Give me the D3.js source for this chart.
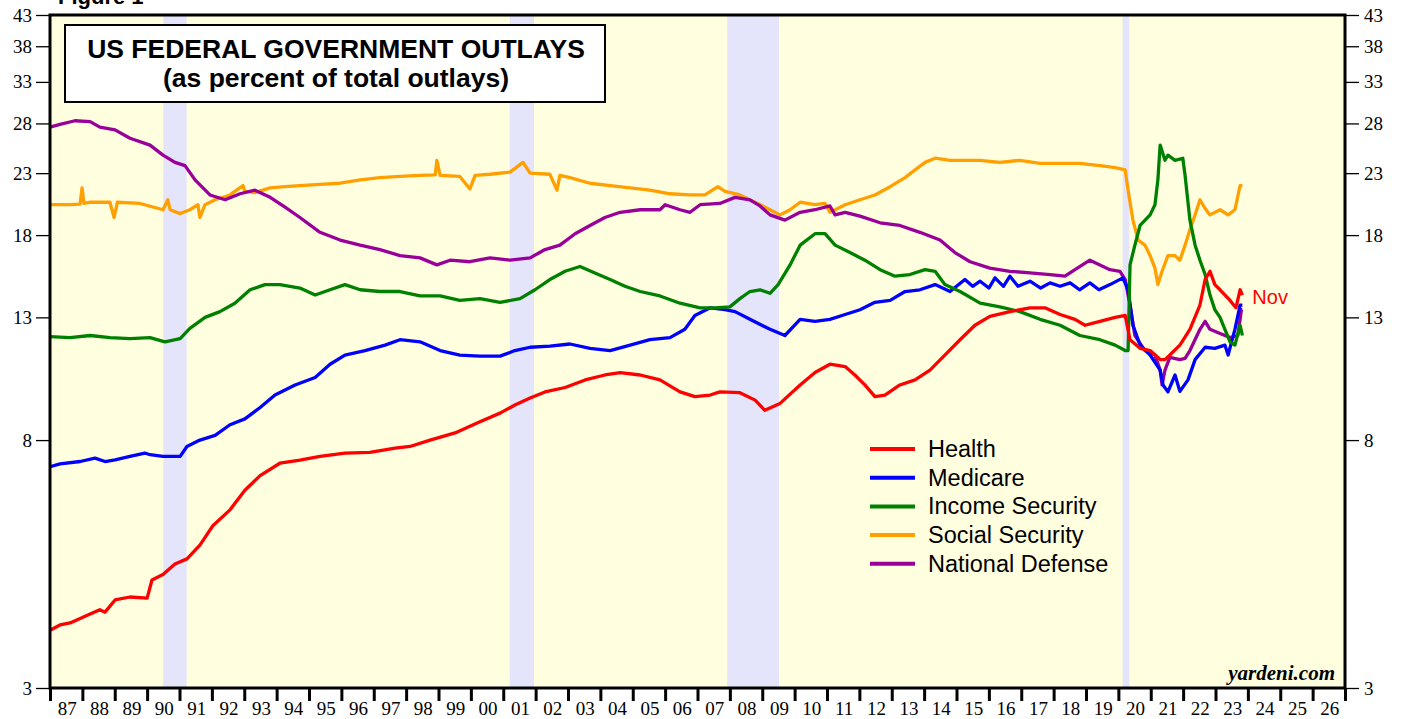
<!DOCTYPE html>
<html><head><meta charset="utf-8">
<script src="https://cdn.jsdelivr.net/npm/d3@7"></script>
<style>body{margin:0;background:#fff}svg{display:block}</style>
</head><body><svg id="c" width="1405" height="719"></svg>
<script>
const yearTicks = d3.range(1987, 2027);
const yTickValues = [3, 8, 13, 18, 23, 28, 33, 38, 43];
const recessions = [[1990.5, 1991.22], [2001.2, 2001.95], [2007.92, 2009.52], [2020.13, 2020.34]];
const seriesNames = ["Health", "Medicare", "Income Security", "Social Security", "National Defense"];
const seriesColors = ["#ff0000", "#0000ff", "#008000", "#ffa000", "#990099"];

const health = [[1987.00,3.77],[1987.31,3.85],[1987.62,3.88],[1987.93,3.95],[1988.24,4.02],[1988.54,4.09],[1988.70,4.05],[1989.01,4.25],[1989.47,4.30],[1990.00,4.28],[1990.15,4.60],[1990.49,4.70],[1990.86,4.90],[1991.23,5.00],[1991.63,5.28],[1992.03,5.70],[1992.56,6.07],[1993.02,6.56],[1993.49,6.95],[1994.10,7.30],[1994.72,7.39],[1995.34,7.50],[1996.11,7.60],[1996.88,7.62],[1997.66,7.75],[1998.12,7.80],[1998.74,8.00],[1999.51,8.23],[2000.28,8.60],[2000.90,8.90],[2001.36,9.19],[2001.83,9.45],[2002.29,9.68],[2002.91,9.85],[2003.53,10.15],[2004.14,10.35],[2004.61,10.45],[2005.23,10.35],[2005.84,10.15],[2006.46,9.68],[2006.92,9.50],[2007.39,9.56],[2007.69,9.68],[2008.31,9.65],[2008.78,9.37],[2009.08,9.00],[2009.55,9.25],[2010.17,9.95],[2010.63,10.45],[2011.09,10.80],[2011.56,10.70],[2011.86,10.35],[2012.17,9.95],[2012.48,9.50],[2012.79,9.56],[2013.25,9.95],[2013.72,10.15],[2014.18,10.55],[2014.64,11.20],[2015.11,11.90],[2015.57,12.60],[2016.03,13.05],[2016.65,13.30],[2017.27,13.50],[2017.73,13.50],[2018.20,13.15],[2018.66,12.90],[2018.97,12.60],[2019.43,12.80],[2019.90,13.00],[2020.21,13.10],[2020.36,11.90],[2020.67,11.50],[2020.98,11.40],[2021.29,11.00],[2021.44,11.00],[2021.59,11.20],[2021.90,11.65],[2022.21,12.40],[2022.52,13.65],[2022.68,15.10],[2022.83,15.60],[2022.98,14.80],[2023.14,14.50],[2023.45,13.90],[2023.63,13.50],[2023.76,14.50],[2023.83,14.20]];

const medicare = [[1987.00,7.20],[1987.31,7.28],[1987.93,7.35],[1988.39,7.45],[1988.70,7.35],[1989.01,7.40],[1989.47,7.50],[1989.93,7.60],[1990.09,7.55],[1990.49,7.50],[1991.02,7.50],[1991.23,7.80],[1991.63,8.00],[1992.10,8.15],[1992.56,8.50],[1993.02,8.70],[1993.49,9.10],[1993.95,9.56],[1994.57,9.95],[1995.19,10.25],[1995.65,10.80],[1996.11,11.20],[1996.73,11.40],[1997.35,11.65],[1997.81,11.90],[1998.43,11.80],[1999.05,11.40],[1999.66,11.20],[2000.28,11.15],[2000.90,11.15],[2001.36,11.40],[2001.83,11.55],[2002.44,11.60],[2003.06,11.70],[2003.68,11.50],[2004.30,11.40],[2004.92,11.65],[2005.53,11.90],[2006.15,12.00],[2006.61,12.40],[2006.92,13.10],[2007.39,13.50],[2007.85,13.40],[2008.16,13.30],[2008.62,12.90],[2009.24,12.40],[2009.70,12.10],[2010.17,12.90],[2010.63,12.80],[2011.09,12.90],[2011.56,13.15],[2012.02,13.40],[2012.48,13.80],[2012.95,13.90],[2013.41,14.40],[2013.87,14.50],[2014.34,14.80],[2014.80,14.40],[2015.26,15.10],[2015.50,14.70],[2015.73,15.00],[2016.00,14.60],[2016.19,15.20],[2016.45,14.70],[2016.65,15.30],[2016.90,14.70],[2017.27,15.00],[2017.60,14.60],[2017.89,14.90],[2018.20,14.70],[2018.51,14.90],[2018.80,14.50],[2019.12,14.90],[2019.40,14.50],[2019.74,14.80],[2020.14,15.20],[2020.30,14.50],[2020.45,12.60],[2020.67,11.65],[2020.98,11.20],[2021.29,10.55],[2021.38,9.95],[2021.53,9.68],[2021.75,10.35],[2021.90,9.70],[2022.15,10.15],[2022.37,11.00],[2022.68,11.55],[2022.98,11.50],[2023.29,11.65],[2023.39,11.20],[2023.60,12.40],[2023.76,13.65],[2023.83,13.65]];

const incomeSecurity = [[1987.00,12.05],[1987.62,12.00],[1988.24,12.10],[1988.85,12.00],[1989.47,11.95],[1990.09,12.00],[1990.55,11.80],[1991.02,11.95],[1991.32,12.45],[1991.79,13.00],[1992.25,13.30],[1992.71,13.75],[1993.18,14.50],[1993.64,14.80],[1994.10,14.80],[1994.72,14.60],[1995.19,14.20],[1995.65,14.50],[1996.11,14.80],[1996.58,14.50],[1997.19,14.40],[1997.81,14.40],[1998.43,14.15],[1999.05,14.15],[1999.66,13.90],[2000.28,14.00],[2000.90,13.80],[2001.52,14.00],[2001.98,14.50],[2002.44,15.10],[2002.91,15.60],[2003.37,15.90],[2003.83,15.50],[2004.30,15.10],[2004.76,14.70],[2005.23,14.40],[2005.84,14.15],[2006.46,13.75],[2007.08,13.50],[2007.54,13.50],[2008.00,13.55],[2008.31,14.00],[2008.62,14.40],[2008.93,14.50],[2009.24,14.30],[2009.49,14.80],[2009.86,16.00],[2010.17,17.30],[2010.63,18.10],[2010.94,18.10],[2011.25,17.30],[2011.71,16.80],[2012.17,16.30],[2012.64,15.70],[2013.10,15.30],[2013.56,15.40],[2014.03,15.70],[2014.34,15.60],[2014.64,14.80],[2015.11,14.40],[2015.73,13.75],[2016.34,13.55],[2016.96,13.30],[2017.58,12.90],[2018.20,12.60],[2018.81,12.10],[2019.43,11.90],[2019.90,11.65],[2020.21,11.40],[2020.30,11.40],[2020.36,16.00],[2020.51,17.30],[2020.67,18.70],[2020.98,19.50],[2021.13,20.30],[2021.22,22.40],[2021.29,25.70],[2021.44,24.20],[2021.53,24.70],[2021.75,24.20],[2021.99,24.40],[2022.06,22.80],[2022.21,19.10],[2022.37,17.30],[2022.52,16.30],[2022.68,15.40],[2022.83,14.20],[2022.98,13.40],[2023.14,13.00],[2023.29,12.40],[2023.45,11.80],[2023.60,11.65],[2023.76,12.60],[2023.83,12.10]];

const socialSecurity = [[1987.00,20.30],[1987.62,20.30],[1987.93,20.35],[1987.99,21.70],[1988.05,20.40],[1988.24,20.50],[1988.85,20.50],[1988.98,19.30],[1989.08,20.50],[1989.78,20.40],[1990.49,19.90],[1990.64,20.70],[1990.71,19.90],[1991.02,19.60],[1991.32,19.90],[1991.57,20.30],[1991.63,19.30],[1991.79,20.30],[1992.10,20.70],[1992.56,21.10],[1992.96,21.90],[1993.02,21.40],[1993.33,21.30],[1993.80,21.70],[1994.26,21.80],[1994.72,21.90],[1995.34,22.00],[1995.96,22.10],[1996.58,22.40],[1997.19,22.60],[1997.81,22.70],[1998.43,22.80],[1998.90,22.85],[1998.95,24.20],[1999.05,22.80],[1999.66,22.70],[1999.97,21.60],[2000.13,22.80],[2000.59,22.90],[2001.21,23.10],[2001.61,24.00],[2001.83,23.00],[2002.44,22.90],[2002.66,21.50],[2002.75,22.80],[2003.06,22.60],[2003.68,22.10],[2004.30,21.90],[2004.92,21.70],[2005.53,21.50],[2006.15,21.20],[2006.77,21.10],[2007.23,21.10],[2007.63,21.80],[2007.85,21.40],[2008.31,21.10],[2008.78,20.50],[2009.24,19.90],[2009.55,19.50],[2009.86,19.90],[2010.17,20.50],[2010.63,20.30],[2010.94,20.40],[2011.09,19.70],[2011.25,19.90],[2011.56,20.30],[2012.02,20.70],[2012.48,21.10],[2012.95,21.80],[2013.41,22.60],[2013.72,23.30],[2014.03,24.00],[2014.34,24.40],[2014.80,24.20],[2015.26,24.20],[2015.73,24.20],[2016.34,24.00],[2016.96,24.20],[2017.58,23.90],[2018.20,23.90],[2018.81,23.90],[2019.43,23.70],[2019.90,23.50],[2020.21,23.30],[2020.30,21.50],[2020.45,19.10],[2020.61,17.65],[2020.82,17.30],[2020.98,16.60],[2021.13,15.80],[2021.22,14.80],[2021.35,15.60],[2021.53,16.60],[2021.75,16.60],[2021.90,16.30],[2022.06,17.30],[2022.21,18.40],[2022.37,19.50],[2022.52,20.70],[2022.68,20.00],[2022.83,19.50],[2023.14,19.90],[2023.39,19.50],[2023.60,19.90],[2023.76,21.90],[2023.83,21.90]];

const nationalDefense = [[1987.00,27.60],[1987.31,27.90],[1987.77,28.30],[1988.24,28.20],[1988.54,27.60],[1989.01,27.30],[1989.47,26.40],[1990.09,25.70],[1990.49,24.70],[1990.86,24.00],[1991.17,23.70],[1991.48,22.40],[1991.94,21.10],[1992.41,20.70],[1992.87,21.20],[1993.33,21.50],[1993.80,20.90],[1994.26,20.10],[1994.72,19.30],[1995.34,18.20],[1995.96,17.65],[1996.58,17.30],[1997.19,17.00],[1997.81,16.60],[1998.43,16.45],[1998.95,16.00],[1999.36,16.30],[1999.97,16.20],[2000.59,16.45],[2001.21,16.30],[2001.83,16.45],[2002.29,17.00],[2002.75,17.30],[2003.22,18.10],[2003.68,18.70],[2004.14,19.30],[2004.61,19.70],[2005.23,19.90],[2005.84,19.90],[2006.00,20.30],[2006.46,19.90],[2006.77,19.70],[2007.08,20.30],[2007.69,20.40],[2008.16,20.90],[2008.62,20.70],[2008.93,20.20],[2009.24,19.50],[2009.70,19.10],[2010.17,19.70],[2010.63,19.90],[2011.09,20.20],[2011.25,19.50],[2011.56,19.70],[2012.02,19.40],[2012.64,18.90],[2013.25,18.70],[2013.87,18.20],[2014.49,17.65],[2014.95,16.80],[2015.42,16.20],[2016.03,15.80],[2016.65,15.60],[2017.27,15.50],[2017.89,15.40],[2018.35,15.30],[2018.66,15.70],[2019.12,16.30],[2019.43,16.00],[2019.74,15.70],[2020.05,15.60],[2020.21,15.10],[2020.36,13.65],[2020.51,12.10],[2020.82,11.40],[2021.13,11.20],[2021.29,10.55],[2021.35,9.95],[2021.44,10.55],[2021.59,11.10],[2021.90,11.00],[2022.06,11.05],[2022.21,11.40],[2022.52,12.40],[2022.68,12.80],[2022.83,12.40],[2023.14,12.20],[2023.45,12.00],[2023.69,12.10],[2023.80,13.40],[2023.83,13.40]];

const seriesData = [health, medicare, incomeSecurity, socialSecurity, nationalDefense];
const drawOrder = [3, 4, 1, 2, 0];

const svg = d3.select("#c");
const L = 50, R = 1345, T = 15, B = 688;
const x = d3.scaleLinear().domain([1987, 2027]).range([L, R]);
const y = d3.scaleLog().domain([3, 43]).range([B, T]);
const serif = "'Liberation Serif', 'Times New Roman', serif";
const sans = "Arial, 'Liberation Sans', sans-serif";

// plot background
svg.append("rect").attr("x", L).attr("y", T).attr("width", R - L).attr("height", B - T).attr("fill", "#ffffe0");
svg.append("g").selectAll("rect").data(recessions).join("rect")
  .attr("x", d => x(d[0])).attr("y", T).attr("width", d => x(d[1]) - x(d[0])).attr("height", B - T)
  .attr("fill", "#e4e4fa");

// top label (partly above the picture, as in the reference)
svg.append("text").attr("x", 58).attr("y", 4).attr("font-family", sans)
  .attr("font-weight", "bold").attr("font-size", 22).text("Figure 1");

// lines
const line = d3.line().x(d => x(d[0])).y(d => y(d[1]));
const gl = svg.append("g");
drawOrder.forEach(i => {
  gl.append("path").datum(seriesData[i]).attr("d", line).attr("fill", "none")
    .attr("stroke", seriesColors[i]).attr("stroke-width", 3.3).attr("stroke-linejoin", "round");
});

// frame
svg.append("rect").attr("x", L).attr("y", T).attr("width", R - L).attr("height", B - T)
  .attr("fill", "none").attr("stroke", "#000").attr("stroke-width", 3);

// y axes
const yl = svg.append("g").attr("transform", `translate(${L - 1},0)`)
  .call(d3.axisLeft(y).tickValues(yTickValues).tickFormat(d3.format("d")).tickSize(13).tickPadding(4));
const yr = svg.append("g").attr("transform", `translate(${R + 1},0)`)
  .call(d3.axisRight(y).tickValues(yTickValues).tickFormat(d3.format("d")).tickSize(13).tickPadding(5));
[yl, yr].forEach(g => {
  g.select(".domain").remove();
  g.selectAll("line").attr("stroke", "#000").attr("stroke-width", 1.3);
  g.selectAll("text").attr("font-family", serif).attr("font-size", 19).attr("fill", "#000");
});

// x axis: ticks at year boundaries, labels centered in each year
const xa = svg.append("g").attr("transform", `translate(0,${B + 1})`)
  .call(d3.axisBottom(x).tickValues(d3.range(1987, 2028)).tickFormat("").tickSize(12));
xa.select(".domain").remove();
xa.selectAll("line").attr("stroke", "#000").attr("stroke-width", 3);
svg.append("g").selectAll("text").data(yearTicks).join("text")
  .attr("x", d => x(d + 0.5) + 1).attr("y", 715).attr("text-anchor", "middle")
  .attr("font-family", serif).attr("font-size", 19).attr("fill", "#000")
  .text(d => String(d % 100).padStart(2, "0"));

// title box
svg.append("rect").attr("x", 65).attr("y", 25).attr("width", 540).attr("height", 77)
  .attr("fill", "#fff").attr("stroke", "#000").attr("stroke-width", 2);
svg.append("text").attr("x", 336).attr("y", 58).attr("text-anchor", "middle").attr("font-family", sans)
  .attr("font-weight", "bold").attr("font-size", 26.5).text("US FEDERAL GOVERNMENT OUTLAYS");
svg.append("text").attr("x", 336).attr("y", 87).attr("text-anchor", "middle").attr("font-family", sans)
  .attr("font-weight", "bold").attr("font-size", 26.5).text("(as percent of total outlays)");

// legend
const lg = svg.append("g");
seriesNames.forEach((n, i) => {
  const yy = 449 + i * 28.7;
  lg.append("line").attr("x1", 870).attr("x2", 915).attr("y1", yy).attr("y2", yy)
    .attr("stroke", seriesColors[i]).attr("stroke-width", 4);
  lg.append("text").attr("x", 928).attr("y", yy + 8).attr("font-family", sans).attr("font-size", 23.5)
    .attr("fill", "#000").text(n);
});

// Nov label
svg.append("text").attr("x", x(2023.83) + 10).attr("y", 304).attr("font-family", sans)
  .attr("font-size", 20).attr("fill", "#ff0000").text("Nov");

// credit
svg.append("text").attr("x", 1335).attr("y", 680).attr("text-anchor", "end").attr("font-family", serif)
  .attr("font-weight", "bold").attr("font-style", "italic").attr("font-size", 21).text("yardeni.com");
</script></body></html>
